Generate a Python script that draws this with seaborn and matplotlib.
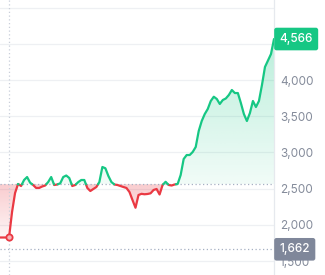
import numpy as np
import pandas as pd
import matplotlib
matplotlib.use("Agg")
import matplotlib.pyplot as plt
import matplotlib.transforms as mtransforms
from matplotlib.path import Path
from matplotlib.patches import PathPatch
import seaborn as sns

# ---- data ----
prices = [1825, 1825, 1825, 1825, 2177, 2439, 2564, 2536, 2619, 2660,
          2582, 2550, 2509, 2509, 2529, 2543, 2591, 2660, 2550, 2557,
          2573, 2660, 2681, 2647, 2536, 2550, 2591, 2619, 2619, 2509,
          2467, 2495, 2522, 2591, 2799, 2781, 2674, 2591, 2557, 2550,
          2536, 2522, 2509, 2453, 2343, 2236, 2412, 2428, 2422, 2426,
          2435, 2481, 2495, 2419, 2550, 2594, 2550, 2543, 2557, 2564,
          2688, 2909, 2964, 2964, 3006, 3075, 3296, 3434, 3530, 3600,
          3710, 3769, 3738, 3669, 3724, 3745, 3793, 3862, 3820, 3820,
          3682, 3530, 3434, 3544, 3710, 3627, 3710, 3931, 4180, 4269,
          4359, 4566]
baseline = 2560
low_value = 1662
marker_index = 3
grid_values = [1500, 2000, 2500, 3000, 3500, 4000, 4500, 5000]
ytick_values = [1500, 2000, 2500, 3000, 3500, 4000]
ylim = (1307, 5105)

GREEN = "#16c784"
RED = "#ea3943"
GRAY_TXT = "#858c9b"
GRID = "#eef0f3"
DOT = "#a6b0c3"
BOX_GRAY = "#7f879a"

sns.set_style("white")
plt.rcParams["font.family"] = ["Inter", "DejaVu Sans"]

fig = plt.figure(figsize=(3.25, 2.75), dpi=100)
ax = fig.add_axes([0, 0, 274 / 325, 1])

t = np.arange(len(prices), dtype=float)
v = np.array(prices, dtype=float)

# split into above / below baseline segments with crossing points
segs = []
cur_t, cur_v = [t[0]], [v[0]]
cur_side = v[0] >= baseline
for i in range(1, len(v)):
    side = v[i] >= baseline
    if side != cur_side:
        tc = t[i - 1] + (baseline - v[i - 1]) / (v[i] - v[i - 1])
        cur_t.append(tc); cur_v.append(baseline)
        segs.append((cur_t, cur_v, cur_side))
        cur_t, cur_v, cur_side = [tc], [baseline], side
    cur_t.append(t[i]); cur_v.append(v[i])
segs.append((cur_t, cur_v, cur_side))

rows = []
for k, (ts, vs, side) in enumerate(segs):
    for a, b in zip(ts, vs):
        rows.append({"t": a, "v": b, "seg": k, "side": "up" if side else "down"})
df = pd.DataFrame(rows)

dense = df.drop_duplicates(subset=["t"]).sort_values("t")
dt = dense["t"].to_numpy()
dv = dense["v"].to_numpy()

# grid lines
for yv in grid_values:
    ax.axhline(yv, color=GRID, lw=0.9, zorder=0)


def grad_fill(lower, upper, color, a_bottom, a_top, y0, y1):
    poly = ax.fill_between(dt, lower, upper, facecolor="none", edgecolor="none")
    path = Path.make_compound_path(*poly.get_paths())
    patch = PathPatch(path, transform=ax.transData, fc="none", ec="none")
    ax.add_patch(patch)
    rgb = matplotlib.colors.to_rgb(color)
    img = np.zeros((256, 1, 4))
    img[:, 0, :3] = rgb
    img[:, 0, 3] = np.linspace(a_bottom, a_top, 256)
    im = ax.imshow(img, extent=[dt[0], dt[-1], y0, y1], origin="lower",
                   aspect="auto", zorder=1, interpolation="bilinear")
    im.set_clip_path(patch)


grad_fill(np.full_like(dv, baseline), np.maximum(dv, baseline), GREEN,
          0.06, 0.30, baseline, 4600)
grad_fill(np.minimum(dv, baseline), np.full_like(dv, baseline), RED,
          0.05, 0.26, 1800, baseline)

# dotted reference lines
ax.axhline(baseline, color=DOT, lw=0.9, ls=(0, (1, 2)), zorder=2)
ax.axhline(low_value, color=DOT, lw=0.9, ls=(0, (1, 2)), zorder=2)
ax.axvline(marker_index, color="#c9cfda", lw=0.9, ls=(0, (1, 2)), zorder=2)

sns.lineplot(data=df, x="t", y="v", hue="side", units="seg", estimator=None,
             palette={"up": GREEN, "down": RED}, linewidth=1.6, legend=False,
             sort=False, ax=ax, zorder=3)

ax.plot([t[marker_index]], [v[marker_index]], marker="o", ms=4.5,
        mfc="#f7b5b9", mec=RED, mew=1.3, zorder=4)

ax.set_xlim(0, len(prices) - 1)
ax.set_ylim(*ylim)
ax.set_xticks([])
ax.set_xlabel("")
ax.set_ylabel("")
ax.yaxis.tick_right()
ax.set_yticks(ytick_values)
ax.set_yticklabels([f"{x:,}" for x in ytick_values])
ax.tick_params(axis="y", length=0, pad=4.3, labelsize=8.5, labelcolor=GRAY_TXT)
for s in ["left", "top", "bottom"]:
    ax.spines[s].set_visible(False)
ax.spines["right"].set_color("#e6e9ee")
ax.spines["right"].set_linewidth(0.9)

trans = mtransforms.blended_transform_factory(ax.transAxes, ax.transData)
for val, col in [(prices[-1], GREEN), (low_value, BOX_GRAY)]:
    ax.annotate(f"{val:,}", xy=(1.0, val), xycoords=trans,
                xytext=(5.5, 0), textcoords="offset pixels",
                ha="left", va="center", fontsize=8.5, color="white",
                fontweight="medium", zorder=6, annotation_clip=False,
                bbox=dict(boxstyle="round,pad=0.45,rounding_size=0.2",
                          fc=col, ec="none"))

fig.savefig("out.png", dpi=100)
